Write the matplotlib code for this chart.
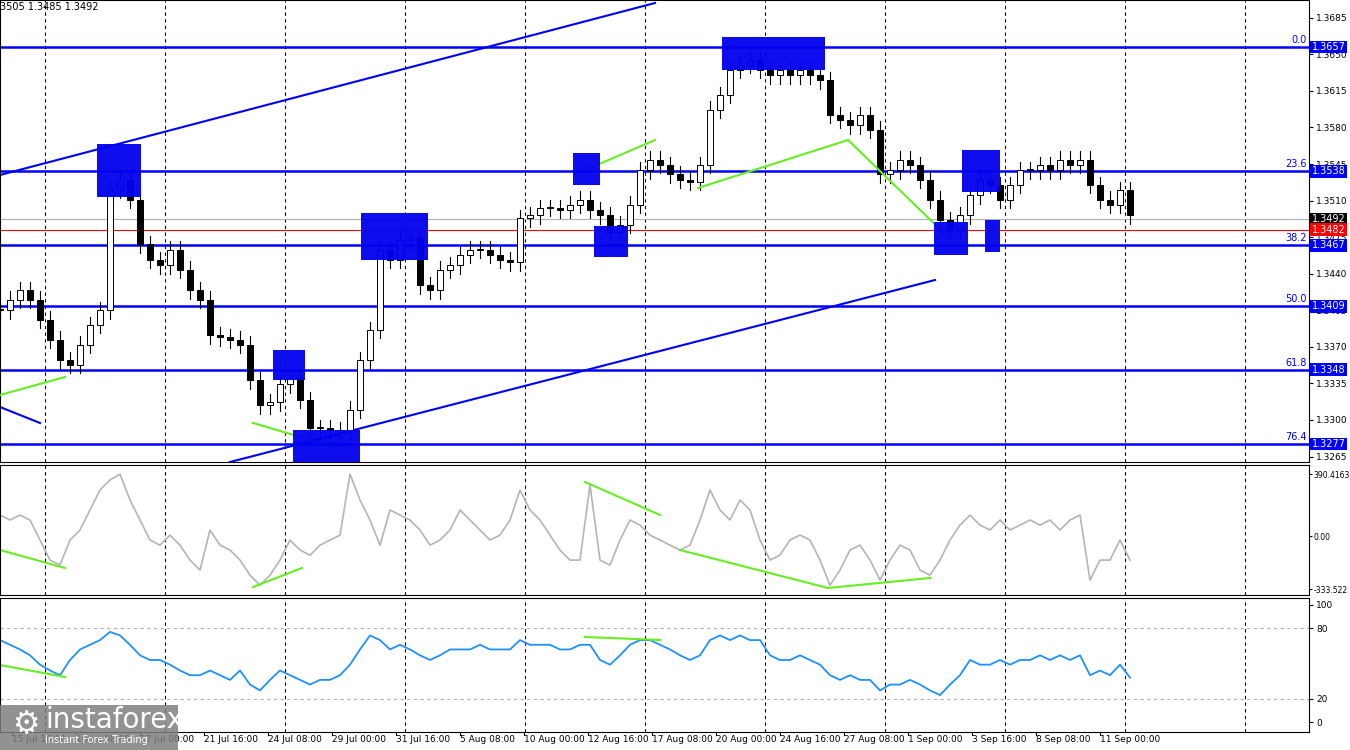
import numpy as np
import matplotlib
matplotlib.use("Agg")
import matplotlib.pyplot as plt
from matplotlib.patches import Rectangle

closes = [1.3405,1.3415,1.3424,1.3415,1.3396,1.3377,1.3357,1.3353,1.3372,1.3391,1.3405,1.3520,1.3530,1.3511,1.3468,1.3453,1.3448,1.3463,1.3444,1.3424,1.3415,1.3381,1.3379,1.3377,1.3372,1.3338,1.3314,1.3317,1.3334,1.3340,1.3319,1.3292,1.3292,1.3290,1.3290,1.3310,1.3357,1.3386,1.3463,1.3453,1.3472,1.3474,1.3429,1.3424,1.3444,1.3448,1.3458,1.3463,1.3463,1.3458,1.3453,1.3451,1.3493,1.3496,1.3503,1.3503,1.3501,1.3506,1.3511,1.3501,1.3496,1.3480,1.3487,1.3506,1.3539,1.3549,1.3544,1.3535,1.3530,1.3528,1.3544,1.3597,1.3611,1.3635,1.3640,1.3645,1.3635,1.3630,1.3635,1.3630,1.3635,1.3630,1.3625,1.3592,1.3587,1.3582,1.3592,1.3578,1.3535,1.3539,1.3549,1.3544,1.3530,1.3511,1.3491,1.3482,1.3496,1.3515,1.3530,1.3525,1.3511,1.3525,1.3539,1.3539,1.3544,1.3539,1.3549,1.3544,1.3549,1.3525,1.3511,1.3506,1.3520,1.3496]
cci = [132,101,132,101,-25,-151,-182,-25,38,164,290,353,390,227,101,-25,-57,6,-57,-151,-214,38,-57,-88,-151,-246,-309,-246,-151,-25,-88,-120,-57,-25,6,390,227,101,-57,164,132,101,38,-57,-25,38,164,101,38,-25,6,101,290,164,101,6,-88,-151,-151,321,-151,-182,-25,101,69,6,-25,-57,-88,-57,101,290,164,101,227,164,-25,-151,-120,-25,6,-25,-151,-309,-214,-88,-57,-151,-277,-151,-57,-88,-214,-246,-151,-25,69,132,69,38,101,38,69,101,69,101,38,101,132,-277,-151,-151,-25,-151]
rsi = [70,66,62,57,49,44,40,53,62,66,70,77,74,66,57,53,53,49,44,40,40,44,40,36,44,32,27,36,44,40,36,32,36,36,40,49,62,74,70,62,66,62,57,53,57,62,62,62,66,62,62,62,70,66,66,66,62,62,66,66,53,49,57,66,70,70,66,62,57,53,57,70,74,70,74,70,70,57,53,53,57,53,49,40,36,40,36,36,27,32,32,36,32,27,23,32,40,53,49,49,53,49,53,53,57,53,57,53,57,40,44,40,49,38]

fib_levels = [1.3657, 1.3538, 1.3467, 1.3409, 1.3348, 1.3277]
fib_names = ["0.0", "23.6", "38.2", "50.0", "61.8", "76.4"]
price_ticks = [1.3685,1.3650,1.3615,1.3580,1.3545,1.3510,1.3475,1.3440,1.3405,1.3370,1.3335,1.3300,1.3265]
bid, ask = 1.3492, 1.3482
xlabels = ["15 Jul 16:00","16 Jul 08:00","17 Jul 00:00","21 Jul 16:00","24 Jul 08:00","29 Jul 00:00",
           "31 Jul 16:00","5 Aug 08:00","10 Aug 00:00","12 Aug 16:00","17 Aug 08:00","20 Aug 00:00",
           "24 Aug 16:00","27 Aug 08:00","1 Sep 00:00","3 Sep 16:00","8 Sep 08:00","11 Sep 00:00"]

blue_lines = [((0,175),(655,3)), ((0,407),(40,423)), ((230,462),(935,280))]
green_main = [((0,395),(65,377)), ((253,423),(335,447)), ((590,168),(655,140)), ((698,188),(848,140)), ((848,140),(948,237))]
green_cci = [((0,550),(65,568)), ((253,587),(302,568)), ((585,482),(660,515)), ((680,550),(828,588)), ((828,588),(930,578))]
green_rsi = [((0,665),(65,677)), ((585,637),(660,640))]
boxes = [(97,144,141,197),(273,350,305,380),(293,430,360,462),(361,213,428,260),(573,153,600,185),
         (594,226,628,257),(722,37,825,70),(934,222,968,255),(962,150,1000,192),(985,220,1000,252)]

W, H = 1350, 750
AXR = 1309
fig = plt.figure(figsize=(13.5, 7.5), dpi=100)
def rect(y0, y1):
    return [0, 1 - y1 / H, AXR / W, (y1 - y0) / H]
ax = fig.add_axes(rect(0, 462))
ac = fig.add_axes(rect(465, 595))
ar = fig.add_axes(rect(598, 732))

XMAX = AXR / 10.0
pmax = 1.3657 + 47 / 10447.0
pmin = pmax - 462 / 10447.0
def px(x): return x / 10.0
def py_main(y): return pmax - (pmax - pmin) * y / 462.0
cmax = 390.4163 + (474 - 465) / 0.159
cmin = cmax - 130 / 0.159
def py_cci(y): return cmax - (cmax - cmin) * (y - 465) / 130.0
rmax = 100 + (605 - 598) / 1.17
rmin = rmax - 134 / 1.17
def py_rsi(y): return rmax - (rmax - rmin) * (y - 598) / 134.0

grid_x = [px(45 + 120 * k) for k in range(11)]
for a in (ax, ac, ar):
    a.set_xlim(0, XMAX)
    for g in grid_x:
        a.axvline(g, color="black", lw=0.8, ls=(0, (3, 3)), zorder=0)
    a.set_xticks([])
    a.yaxis.tick_right()
    a.tick_params(axis="y", labelsize=6.5, length=3, pad=2)
    for s in a.spines.values():
        s.set_color("black"); s.set_linewidth(0.8)

opens = [closes[0]] + closes[:-1]
for i, (o, c) in enumerate(zip(opens, closes)):
    hi = max(o, c) + 0.0008
    lo = min(o, c) - 0.0008
    ax.plot([i, i], [lo, hi], color="black", lw=0.8, zorder=3)
    col = "white" if c >= o else "black"
    ax.add_patch(Rectangle((i - 0.3, min(o, c)), 0.6, max(abs(c - o), 0.00008),
                           facecolor=col, edgecolor="black", lw=0.7, zorder=4))
ax.set_ylim(pmin, pmax)
ax.set_yticks(price_ticks)
ax.set_yticklabels([f"{t:.4f}" for t in price_ticks])

for lvl, nm in zip(fib_levels, fib_names):
    ax.axhline(lvl, color="#0000ff", lw=1.8, zorder=2)
    ax.text(XMAX - 0.2, lvl + 0.0002, nm, color="#0000ff", fontsize=7, ha="right", va="bottom")
    ax.text(1.002, (lvl - pmin) / (pmax - pmin), f"{lvl:.4f}", transform=ax.transAxes, fontsize=7,
            color="white", va="center", ha="left",
            bbox=dict(boxstyle="square,pad=0.15", fc="#0000ff", ec="none"))
ax.axhline(bid, color="#b0b0b0", lw=0.8)
ax.axhline(ask, color="red", lw=0.8)
for v, fc in ((bid, "black"), (ask, "red")):
    ax.text(1.002, (v - pmin) / (pmax - pmin), f"{v:.4f}", transform=ax.transAxes, fontsize=7,
            color="white", va="center", ha="left",
            bbox=dict(boxstyle="square,pad=0.15", fc=fc, ec="none"))

for (a, b) in blue_lines:
    ax.plot([px(a[0]), px(b[0])], [py_main(a[1]), py_main(b[1])], color="#0000ff", lw=1.5, zorder=2)
for (a, b) in green_main:
    ax.plot([px(a[0]), px(b[0])], [py_main(a[1]), py_main(b[1])], color="#66ee22", lw=1.5, zorder=5)
for (x0, y0, x1, y1) in boxes:
    ax.add_patch(Rectangle((px(x0), py_main(y1)), px(x1 - x0), py_main(y0) - py_main(y1),
                           facecolor="#0000ee", edgecolor="none", alpha=0.95, zorder=6))
ax.text(0.0, 0.995, "3505 1.3485 1.3492", transform=ax.transAxes, fontsize=7, va="top", ha="left")

ac.plot(np.arange(len(cci)), cci, color="#b4b4b4", lw=1.2)
for (a, b) in green_cci:
    ac.plot([px(a[0]), px(b[0])], [py_cci(a[1]), py_cci(b[1])], color="#66ee22", lw=1.5)
ac.set_ylim(cmin, cmax)
ac.set_yticks([390.4163, 0, -333.522])
ac.set_yticklabels(["390.4163", "0.00", "-333.522"], fontsize=5.5)
ac.tick_params(axis="y", pad=1, length=2)

ar.plot(np.arange(len(rsi)), rsi, color="#1e90ff", lw=1.3)
for (a, b) in green_rsi:
    ar.plot([px(a[0]), px(b[0])], [py_rsi(a[1]), py_rsi(b[1])], color="#66ee22", lw=1.5)
for lv in (80, 20):
    ar.axhline(lv, color="#b0b0b0", lw=0.8, ls=(0, (3, 3)))
ar.set_ylim(rmin, rmax)
ar.set_yticks([100, 80, 20, 0])

for k, lab in enumerate(xlabels):
    xp = 12 + 64 * k
    fig.text(xp / W, 1 - 740 / H, lab, fontsize=6.5, ha="left", va="center")
    fig.add_artist(plt.Line2D([xp / W, xp / W], [1 - 732 / H, 1 - 735 / H], color="black", lw=0.8))

fig.patches.append(Rectangle((0, 0), 178 / W, 45 / H, transform=fig.transFigure,
                             facecolor="#7f7f7f", alpha=0.85, edgecolor="none", zorder=10))
fig.text(45 / W, 1 - 720 / H, "instaforex", color="white", fontsize=20, ha="left", va="center", zorder=11)
fig.text(45 / W, 1 - 740 / H, "Instant Forex Trading", color="white", fontsize=7, ha="left", va="center", zorder=11)
fig.text(12 / W, 1 - 725 / H, "⚙", color="white", fontsize=22, ha="left", va="center", zorder=11)

fig.savefig("out.png", dpi=100)
